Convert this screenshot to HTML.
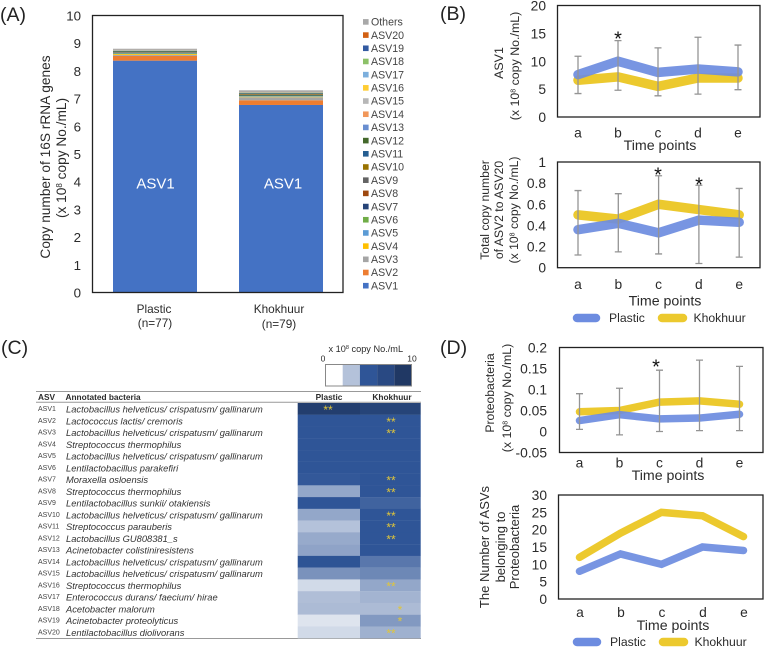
<!DOCTYPE html>
<html lang="en">
<head>
<meta charset="utf-8">
<title>Copy number of 16S rRNA genes</title>
<style>
html,body{margin:0;padding:0;background:#fff;}
svg{display:block;font-family:"Liberation Sans",sans-serif;fill:#2b2b2b;filter:blur(0.3px);}
.panel{font-size:19.5px;fill:#222;}
.tick{font-size:13.8px;}
.ttl{font-size:12.2px;text-anchor:middle;}
.tp{font-size:14.2px;text-anchor:middle;}
.box{fill:none;stroke:#222;stroke-width:1.3;}
.star{font-size:20px;text-anchor:middle;fill:#111;}
</style>
</head>
<body>
<svg id="fig" xmlns="http://www.w3.org/2000/svg" width="764" height="647" viewBox="0 0 764 647">
<rect width="764" height="647" fill="#fff"/>
<text class="panel" x="0" y="21">(A)</text>
<text class="panel" x="440" y="20">(B)</text>
<text class="panel" x="1" y="354">(C)</text>
<text class="panel" x="440" y="354">(D)</text>

<!-- panel A static labels -->
<text transform="rotate(-90 50 157)" x="50" y="157" style="font-size:13.7px;text-anchor:middle">Copy number of 16S rRNA genes</text>
<text transform="rotate(-90 66 158)" x="66" y="158" style="font-size:13.7px;text-anchor:middle">(x 10<tspan font-size="8" dy="-4">8</tspan><tspan dy="4"> copy No./mL)</tspan></text>
<text x="154" y="313" style="font-size:11.8px;text-anchor:middle">Plastic</text>
<text x="155" y="327" style="font-size:11.8px;text-anchor:middle">(n=77)</text>
<text x="279" y="313" style="font-size:11.8px;text-anchor:middle">Khokhuur</text>
<text x="279" y="328" style="font-size:11.8px;text-anchor:middle">(n=79)</text>

<!-- panel B static labels -->
<text class="ttl" transform="rotate(-90 503 63)" x="503" y="63" style="font-size:12.4px">ASV1</text>
<text class="ttl" transform="rotate(-90 519 66)" x="519" y="66" style="font-size:12.4px">(x 10<tspan font-size="7" dy="-3.5">8</tspan><tspan dy="3.5"> copy No./mL)</tspan></text>
<text class="tp" x="660" y="150">Time points</text>
<text class="ttl" transform="rotate(-90 489 210)" x="489" y="210">Total copy number</text>
<text class="ttl" transform="rotate(-90 503 210)" x="503" y="210">of ASV2 to ASV20</text>
<text class="ttl" transform="rotate(-90 518 210)" x="518" y="210">(x 10<tspan font-size="7" dy="-3.5">8</tspan><tspan dy="3.5"> copy No./mL)</tspan></text>
<text class="tp" x="665" y="305.5">Time points</text>

<!-- panel D static labels -->
<text class="ttl" transform="rotate(-90 494 393)" x="494" y="393">Proteobacteria</text>
<text class="ttl" transform="rotate(-90 511 398)" x="511" y="398" style="font-size:12.4px">(x 10<tspan font-size="7" dy="-3.5">8</tspan><tspan dy="3.5"> copy No./mL)</tspan></text>
<text class="tp" x="668" y="480">Time points</text>
<text class="ttl" transform="rotate(-90 489 547)" x="489" y="547" style="font-size:13px">The Number of ASVs</text>
<text class="ttl" transform="rotate(-90 505 547)" x="505" y="547" style="font-size:13px">belonging to</text>
<text class="ttl" transform="rotate(-90 519 547)" x="519" y="547" style="font-size:13px">Proteobacteria</text>
<text class="tp" x="673" y="630">Time points</text>

<!-- panel C static labels -->
<text x="328.5" y="352" style="font-size:9.2px">x 10<tspan font-size="5.5" dy="-3">8</tspan><tspan dy="3"> copy No./mL</tspan></text>
<text x="323" y="361.5" style="font-size:8.5px;text-anchor:middle">0</text>
<text x="412" y="361.5" style="font-size:8.5px;text-anchor:middle">10</text>
<text x="38" y="400" style="font-size:8.3px;font-weight:bold">ASV</text>
<text x="65.5" y="400" style="font-size:8.3px;font-weight:bold">Annotated bacteria</text>
<text x="329" y="400" style="font-size:8.3px;font-weight:bold;text-anchor:middle">Plastic</text>
<text x="392" y="400" style="font-size:8.3px;font-weight:bold;text-anchor:middle">Khokhuur</text>
<line x1="36" x2="421" y1="391.5" y2="391.5" stroke="#999"/>
<line x1="36" x2="421" y1="402.3" y2="402.3" stroke="#999"/>
<line x1="36" x2="421" y1="638.5" y2="638.5" stroke="#999"/>
</svg>

<script>
// Panel A
const stackSeries = ['ASV1','ASV2','ASV3','ASV4','ASV5','ASV6','ASV7','ASV8','ASV9','ASV10','ASV11','ASV12','ASV13','ASV14','ASV15','ASV16','ASV17','ASV18','ASV19','ASV20','Others'];
const stackColors = ['#4472c4','#ed7d31','#a5a5a5','#ffc000','#5b9bd5','#70ad47','#264478','#9e480e','#636363','#997300','#255e91','#43682b','#698ed0','#f1975a','#b7b7b7','#ffcd33','#7cafdd','#8cc168','#335aa1','#d26012','#a8a8a8'];
const stackPlastic = [8.37,0.17,0.04,0.03,0.02,0.02,0.01,0.01,0.01,0.01,0.01,0.02,0.005,0.005,0.005,0.005,0.005,0.005,0.005,0.005,0.04];
const stackKhokhuur = [6.77,0.17,0.11,0.02,0.02,0.02,0.02,0.01,0.01,0.02,0.02,0.02,0.005,0.005,0.005,0.005,0.005,0.005,0.005,0.005,0.05];
const stackTicks = [0,1,2,3,4,5,6,7,8,9,10];

// Panel B & D
const timeLabels = ['a','b','c','d','e'];
const b1Plastic = [7.6,10,8,8.6,8.1];
const b1Khokhuur = [6.6,7.2,5.5,7,7];
const b1High = [10.9,13.7,12.4,14.3,12.9];
const b1Low = [4.2,4.8,3.8,4.1,4.9];
const b1Ticks = [0,5,10,15,20];

const b2Plastic = [0.36,0.42,0.33,0.45,0.43];
const b2Khokhuur = [0.5,0.46,0.6,0.55,0.5];
const b2High = [0.73,0.7,0.87,0.78,0.75];
const b2Low = [0.12,0.15,0.13,0.04,0.1];
const b2Ticks = [0,0.2,0.4,0.6,0.8,1];

const d1Plastic = [0.026,0.04,0.03,0.032,0.041];
const d1Khokhuur = [0.047,0.05,0.07,0.073,0.065];
const d1High = [0.09,0.103,0.146,0.17,0.155];
const d1Low = [0.005,-0.008,0,0.002,0.002];
const d1Ticks = [-0.05,0,0.05,0.1,0.15,0.2];

const d2Plastic = [8,13,10,15,14];
const d2Khokhuur = [12,19,25,24,18];
const d2Ticks = [0,5,10,15,20,25,30];

// Panel C
const heatAsv = ['ASV1','ASV2','ASV3','ASV4','ASV5','ASV6','ASV7','ASV8','ASV9','ASV10','ASV11','ASV12','ASV13','ASV14','ASV15','ASV16','ASV17','ASV18','ASV19','ASV20'];
const heatTaxa = ['Lactobacillus helveticus/ crispatusm/ gallinarum','Lactococcus lactis/ cremoris','Lactobacillus helveticus/ crispatusm/ gallinarum','Streptococcus thermophilus','Lactobacillus helveticus/ crispatusm/ gallinarum','Lentilactobacillus parakefiri','Moraxella osloensis','Streptococcus thermophilus','Lentilactobacillus sunkii/ otakiensis','Lactobacillus helveticus/ crispatusm/ gallinarum','Streptococcus parauberis','Lactobacillus GU808381_s','Acinetobacter colistiniresistens','Lactobacillus helveticus/ crispatusm/ gallinarum','Lactobacillus helveticus/ crispatusm/ gallinarum','Streptococcus thermophilus','Enterococcus durans/ faecium/ hirae','Acetobacter malorum','Acinetobacter proteolyticus','Lentilactobacillus diolivorans'];
const heatPlastic = [9,5,5,5,5,5,4.9,2.6,5,2.6,1.8,2.5,2.7,5.2,3.2,1.1,1.9,2,0.8,1.1];
const heatKhokhuur = [8,5,5,5,5,5,5,5,4.6,5,5,5,5,4,3.5,2.6,2.2,2,3,2.3];
const starsPlastic = ['**','','','','','','','','','','','','','','','','','','',''];
const starsKhokhuur = ['','**','**','','','','**','**','','**','**','**','','','','**','','*','*','**'];
const colorbarValues = [0,1.8,5,7,10];

const NS = 'http://www.w3.org/2000/svg';
const fig = document.getElementById('fig');
function make(tag, attrs, text){
  const el = document.createElementNS(NS, tag);
  for (const k in attrs) el.setAttribute(k, attrs[k]);
  if (text !== undefined) el.textContent = text;
  fig.appendChild(el);
  return el;
}
function linear(d0,d1,r0,r1){ return v => r0 + (v-d0)/(d1-d0)*(r1-r0); }

// ---------- Panel A ----------
const ayA = linear(0,10,292.5,15.5);
function drawStack(values, x, w, group){
  let base = 0;
  values.forEach((v,i)=>{
    const y1 = ayA(base+v), y0 = ayA(base);
    const el = make('rect',{x:x,y:y1,width:w,height:y0-y1,fill:stackColors[i]});
    
    
    base += v;
  });
}
drawStack(stackPlastic,113,84,'plastic');
drawStack(stackKhokhuur,239,84,'khokhuur');
const boxA = make('rect',{class:'box',x:92.5,y:15.5,width:250.5,height:277});


stackTicks.forEach(t=>{
  const el = make('text',{x:81,y:ayA(t)+5,'text-anchor':'end',style:'font-size:13.3px'},String(t));
  
  
});
[[155.5,'plastic'],[283,'khokhuur']].forEach(p=>{
  const el = make('text',{x:p[0],y:188.5,'text-anchor':'middle',style:'font-size:15px;fill:#fff'},'ASV1');
  
  
});
stackSeries.forEach((s,i)=>{
  const y = 285.7 - i*13.19;
  const sw = make('rect',{x:363,y:y-2.8,width:5.6,height:5.6,fill:stackColors[i]});
  
  
  const tx = make('text',{x:371,y:y+3.7,style:'font-size:10.6px;fill:#444'},s);
  
  
});

// ---------- Line panels ----------
function drawLinePanel(id, cfg, plastic, khokhuur, high, low, ticks){
  const sy = linear(cfg.d0,cfg.d1,cfg.bottom,cfg.top);
  const sx = i => cfg.xs + i*cfg.step;
  const frame = make('rect',{class:'box',x:cfg.left,y:cfg.top,width:cfg.right-cfg.left,height:cfg.bottom-cfg.top});
  
  
  const pts = arr => arr.map((v,i)=>sx(i)+','+sy(v)).join(' ');
  const lk = make('polyline',{points:pts(khokhuur),fill:'none',stroke:'#ecc92e','stroke-width':cfg.sw,'stroke-linecap':'round','stroke-linejoin':'miter'});
  
  
  const lp = make('polyline',{points:pts(plastic),fill:'none',stroke:'#6d8ce0','stroke-width':cfg.sw,'stroke-linecap':'round','stroke-linejoin':'miter','stroke-opacity':0.92});
  
  
  if (high) high.forEach((h,i)=>{
    const x = sx(i), a = sy(h), b = sy(low[i]);
    const e = make('path',{d:'M'+(x-3.5)+' '+a+'H'+(x+3.5)+'M'+x+' '+a+'V'+b+'M'+(x-3.5)+' '+b+'H'+(x+3.5),fill:'none',stroke:'#949494','stroke-width':1.3});
    
    
  });
  ticks.forEach(t=>{
    const el = make('text',{x:cfg.tickX,y:sy(t)+5,'text-anchor':'end',class:'tick'},String(t));
    
    
  });
  timeLabels.forEach((l,i)=>{
    const el = make('text',{x:sx(i)+(cfg.lx||0),y:cfg.xLabelY,'text-anchor':'middle',class:'tick'},l);
    
    
  });
}
drawLinePanel('panel-b1',{d0:0,d1:20,top:5.5,bottom:117,left:557.5,right:760,xs:578,step:40,tickX:546,xLabelY:137.5,sw:9.5},b1Plastic,b1Khokhuur,b1High,b1Low,b1Ticks);
drawLinePanel('panel-b2',{d0:0,d1:1,top:162,bottom:267.7,left:557.5,right:760,xs:578,step:40.3,tickX:546,xLabelY:289,sw:9.5},b2Plastic,b2Khokhuur,b2High,b2Low,b2Ticks);
drawLinePanel('panel-d1',{d0:-0.05,d1:0.2,top:347.5,bottom:452.5,left:559.5,right:763,xs:579.5,step:40,tickX:547,xLabelY:467.5,sw:7.5},d1Plastic,d1Khokhuur,d1High,d1Low,d1Ticks);
drawLinePanel('panel-d2',{d0:0,d1:30,top:495,bottom:599,left:558.5,right:763,xs:579.5,step:41,tickX:547,xLabelY:617,lx:0.5,sw:7.5},d2Plastic,d2Khokhuur,null,null,d2Ticks);

[[618,45.5,'panel-b1'],[658,181.5,'panel-b2-c'],[699,191.5,'panel-b2-d'],[656,373.5,'panel-d1']].forEach(s=>{
  const el = make('text',{x:s[0],y:s[1],class:'star'},'*');
  
  
});

function drawLegend(id, y, x1, x2, t1, x3, x4, t2){
  const a = make('line',{x1:x1,x2:x2,y1:y,y2:y,stroke:'#6d8ce0','stroke-width':8.5,'stroke-linecap':'round'});
  
  
  const b = make('text',{x:t1,y:y+4.2,style:'font-size:12.2px'},'Plastic');
  
  
  const c = make('line',{x1:x3,x2:x4,y1:y,y2:y,stroke:'#ecc92e','stroke-width':8.5,'stroke-linecap':'round'});
  
  
  const d = make('text',{x:t2,y:y+4.2,style:'font-size:12.2px'},'Khokhuur');
  
  
}
drawLegend('panel-b',318,577,596,609,662,683,693.5);
drawLegend('panel-d',642,577,597,610,663,684,694.5);

// ---------- Panel C ----------
function heatColor(v){
  const lerp = (a,b,t)=>a.map((c,i)=>Math.round(c+(b[i]-c)*t));
  const c0=[255,255,255], c1=[47,85,151], c2=[32,56,100];
  const rgb = v<=5 ? lerp(c0,c1,v/5) : lerp(c1,c2,(v-5)/5);
  return 'rgb('+rgb.join(',')+')';
}
const rowY = i => 403 + i*11.76;
const colA = 297.7, colB = 360, colEnd = 420.7;
heatAsv.forEach((a,i)=>{
  const y = rowY(i);
  const c1 = make('rect',{x:colA,y:y,width:colB-colA,height:11.9,fill:heatColor(heatPlastic[i])});
  
  
  const c2 = make('rect',{x:colB,y:y,width:colEnd-colB,height:11.9,fill:heatColor(heatKhokhuur[i])});
  
  
  const t1 = make('text',{x:38,y:y+8,style:'font-size:7px;fill:#444'},a);
  
  
  const t2 = make('text',{x:66,y:y+9.5,style:'font-size:9.35px;font-style:italic;fill:#333'},heatTaxa[i]);
  
  
  if (starsPlastic[i]) {
    const s = make('text',{x:328,y:y+11,'text-anchor':'middle',style:'font-size:12px;fill:#e0c63a'},starsPlastic[i]);
    
    
  }
  if (starsKhokhuur[i]) {
    const sx = starsKhokhuur[i] === '*' ? 400 : 391;
    const s = make('text',{x:sx,y:y+11,'text-anchor':'middle',style:'font-size:12px;fill:#e0c63a'},starsKhokhuur[i]);
    
    
  }
});
colorbarValues.forEach((v,i)=>{
  const el = make('rect',{x:325.5+i*17.2,y:364.5,width:17.2,height:21.5,fill:heatColor(v)});
  
  
});
const cbFrame = make('rect',{x:325.5,y:364.5,width:86,height:21.5,fill:'none',stroke:'#888','stroke-width':1});


</script>
</body>
</html>
